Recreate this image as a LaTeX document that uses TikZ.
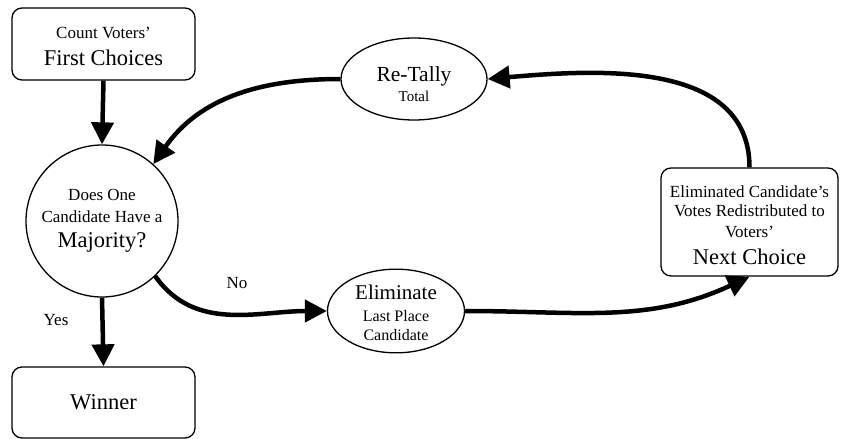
\documentclass[tikz,border=0pt]{standalone}
\usepackage{fontspec}
\setmainfont{Liberation Serif}
\usepackage{amsmath}
\usepackage{xcolor}
\usetikzlibrary{arrows.meta,shapes.geometric}

\newcommand{\smtxt}{\fontsize{17}{20}\selectfont}
\newcommand{\bgtxt}{\fontsize{22.5}{24}\selectfont}

\tikzset{
  stepbox/.style={draw, rounded corners=10pt, line width=1.3pt, align=center, inner sep=0pt, font=\smtxt},
  oval/.style={draw, ellipse, line width=1.3pt, align=center, inner sep=0pt, font=\smtxt},
  flow/.style={line width=4.5pt, -{Triangle[length=22pt,width=22pt]}},
  lbl/.style={font=\smtxt, inner sep=0pt}
}

\begin{document}
\begin{tikzpicture}[x=1pt, y=-1pt]
                \useasboundingbox (0,0) rectangle (841,439);
                % nodes
                \node[stepbox, minimum width=183pt, minimum height=72pt] (count) at (103.5,44)
                    {\rule{0pt}{16pt}Count Voters'\\[7pt] \bgtxt First Choices};
                \node[draw, circle, line width=1.3pt, minimum size=152pt, align=center, inner sep=0pt, font=\smtxt] (major) at (102,221)
                    {Does One\\[2pt] Candidate Have a\\[5pt] \bgtxt Majority?};
                \node[stepbox, minimum width=183pt, minimum height=71pt] (winner) at (103.5,402.5)
                    {\bgtxt Winner};
                \node[oval, minimum width=146pt, minimum height=82pt] (retally) at (414,79)
                    {\fontsize{21.5}{23}\selectfont\rule{0pt}{26pt}Re-Tally\\ \fontsize{15}{17}\selectfont Total};
                \node[oval, minimum width=137pt, minimum height=82pt] (elim) at (396,311)
                    {\fontsize{21}{23}\selectfont\rule{0pt}{18pt}Eliminate\\[2pt] \fontsize{16}{19}\selectfont Last Place\\[-1pt] \fontsize{16}{19}\selectfont Candidate};
                \node[stepbox, minimum width=177pt, minimum height=108pt] (next) at (749.5,222)
                    {\rule{0pt}{18pt}Eliminated Candidate's\\[-1pt] Votes Redistributed to\\[1pt] Voters'\\[7pt] \bgtxt Next Choice};
                % labels
                \node[lbl] (no) at (237,283) {No};
                \node[lbl] (yes) at (56,320) {Yes};
                % arrows
                \draw[flow] (count.south) -- (major.north);
                \draw[flow] (major.south) -- (winner.north);
                \draw[flow] (major.-46) to[out=-55, in=180] (elim.west);
                \draw[flow] (elim.east) to[out=0, in=205] (next.south);
                \draw[flow] (next.north) to[out=90, in=5] (retally.east);
                \draw[flow] (retally.west) to[out=180, in=55] (major.48);
            \end{tikzpicture}
\end{document}
